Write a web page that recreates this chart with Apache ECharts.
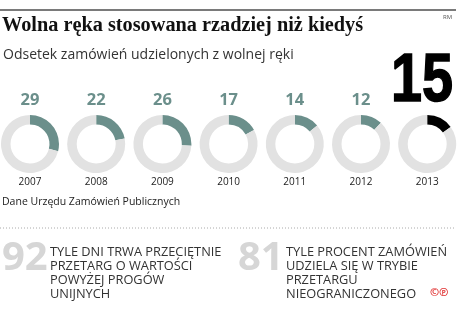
<!DOCTYPE html>
<html>
<head>
<meta charset="utf-8">
<script src="https://cdn.jsdelivr.net/npm/echarts@6/dist/echarts.min.js"></script>
<style>
  html, body { margin: 0; padding: 0; background: #fff; }
  #chart { width: 464px; height: 324px; }
</style>
</head>
<body>
<div id="chart"></div>
<script>
// dane
var years = ['2007', '2008', '2009', '2010', '2011', '2012', '2013'];
var shares = [29, 22, 26, 17, 14, 12, 15];
var factNumbers = ['92', '81'];
var factTexts = [
  'TYLE DNI TRWA PRZECIĘTNIE\nPRZETARG O WARTOŚCI\nPOWYŻEJ PROGÓW\nUNIJNYCH',
  'TYLE PROCENT ZAMÓWIEŃ\nUDZIELA SIĘ W TRYBIE\nPRZETARGU\nNIEOGRANICZONEGO'
];

var chart = echarts.init(document.getElementById('chart'));
var teal = '#6b8f8b';
var ringGray = '#e2e2e2';
var sans = '"Open Sans", "Noto Sans", sans-serif';

var firstX = 30, stepX = 66.2, ringY = 144;
var series = [];
var graphics = [];

years.forEach(function (year, i) {
  var last = i === years.length - 1;
  var cx = firstX + stepX * i;
  series.push({
    type: 'pie',
    radius: [19.5, 29],
    center: [cx, ringY],
    startAngle: 90,
    clockwise: true,
    silent: true,
    label: { show: false },
    labelLine: { show: false },
    emphasis: { disabled: true },
    data: [
      { value: shares[i], itemStyle: { color: last ? '#000' : teal } },
      { value: 100 - shares[i], itemStyle: { color: ringGray } }
    ]
  });
  if (!last) {
    graphics.push({
      type: 'text', x: cx, y: 92,
      style: { text: String(shares[i]), textAlign: 'center',
        font: 'bold 16.5px ' + sans, fill: teal }
    });
  }
  graphics.push({
    type: 'text', x: cx, y: 177,
    style: { text: year, textAlign: 'center', font: '10px ' + sans, fill: '#222' }
  });
});

// wyróżniona wartość 2013 (zwężona)
graphics.push({
  type: 'text', x: 422, y: 48, scaleX: 0.82,
  style: { text: String(shares[shares.length - 1]), textAlign: 'center',
    font: 'bold 68px "Liberation Sans", "DejaVu Sans", sans-serif', fill: '#000',
    stroke: '#000', lineWidth: 1.5 }
});

// nagłówek
graphics.push(
  { type: 'rect', shape: { x: 0, y: 9, width: 456, height: 2 }, style: { fill: '#7a7a7a' } },
  { type: 'text', x: 443, y: 14, style: { text: 'RM', font: '6px ' + sans, fill: '#555' } },
  { type: 'text', x: 2, y: 16,
    style: { text: 'Wolna ręka stosowana rzadziej niż kiedyś',
      font: 'bold 20.3px "Liberation Serif", "DejaVu Serif", serif', fill: '#111' } },
  { type: 'text', x: 3, y: 48,
    style: { text: 'Odsetek zamówień udzielonych z wolnej ręki', font: '14px ' + sans, fill: '#333' } },
  { type: 'text', x: 2, y: 197,
    style: { text: 'Dane Urzędu Zamówień Publicznych', font: '10.5px ' + sans, fill: '#222' } },
  { type: 'line', shape: { x1: 0, y1: 228, x2: 456, y2: 228 },
    style: { stroke: '#aaa', lineWidth: 1, lineDash: [1, 2] } }
);

// fakty na dole
var factX = [2, 238];
factNumbers.forEach(function (num, i) {
  graphics.push(
    { type: 'text', x: factX[i], y: 239,
      style: { text: num, font: 'bold 40px ' + sans, fill: '#d6d6d6' } },
    { type: 'text', x: factX[i] + 48, y: 245,
      style: { text: factTexts[i], font: '12.8px ' + sans, lineHeight: 14, fill: '#333' } }
  );
});
graphics.push({
  type: 'text', x: 430, y: 287,
  style: { text: '©℗', font: 'bold 11px ' + sans, fill: '#e03030' }
});

chart.setOption({
  animation: false,
  series: series,
  graphic: graphics
});
</script>
</body>
</html>
